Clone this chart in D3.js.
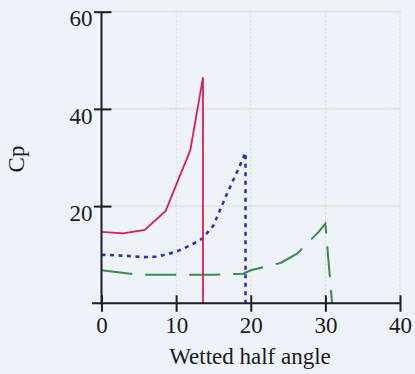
<!DOCTYPE html>
<html>
<head>
<meta charset="utf-8">
<script src="https://cdn.jsdelivr.net/npm/d3@7"></script>
<style>
  html, body { margin: 0; padding: 0; background: #eef2f9; }
  svg { display: block; }
  text { font-family: "Liberation Serif", "DejaVu Serif", serif; fill: #1a1a1a; }
</style>
</head>
<body>
<svg id="chart" width="415" height="374"></svg>
<script>
// Pressure coefficient vs wetted half angle, three cases
const xTicks = [0, 10, 20, 30, 40];
const yTicks = [20, 40, 60];

const redSeries = [
  [0, 14.7], [2.9, 14.4], [5.8, 15.1], [8.6, 19], [11.9, 31.5], [13.6, 46.5], [13.6, 0]
];
const blueSeries = [
  [0, 10], [3, 9.8], [5.5, 9.5], [7.5, 9.6], [10, 10.6], [12, 12], [13.5, 13.3],
  [15, 16], [16.8, 22.5], [18.3, 27.5], [19.3, 31], [19.3, 0]
];
const greenSeries = [
  [0, 6.8], [4.7, 5.9], [10, 5.9], [15, 5.9], [19, 6.1], [20, 6.8], [24, 8.3],
  [26.2, 10.2], [29.1, 14.7], [30, 16.4], [30.9, 0]
];

const svg = d3.select("#chart");
const x = d3.scaleLinear().domain([0, 40]).range([101.5, 400]);
const y = d3.scaleLinear().domain([0, 60]).range([303.3, 11.7]);
const serif = "'Liberation Serif', 'DejaVu Serif', serif";

// grid
const grid = svg.append("g");
grid.selectAll("line.v").data(xTicks.filter(d => d > 0)).join("line")
  .attr("x1", d => x(d)).attr("x2", d => x(d))
  .attr("y1", y(60)).attr("y2", y(0))
  .attr("stroke", "#c9ddc9").attr("stroke-width", 1).attr("stroke-dasharray", "2,2");
grid.selectAll("line.h").data(yTicks).join("line")
  .attr("x1", x(0)).attr("x2", x(40))
  .attr("y1", d => y(d)).attr("y2", d => y(d))
  .attr("stroke", "#cfe2c8").attr("stroke-width", 1);

// series
const line = d3.line().x(d => x(d[0])).y(d => y(d[1]));
svg.append("path").datum(greenSeries).attr("d", line)
  .attr("fill", "none").attr("stroke", "#3e8a4e").attr("stroke-width", 2)
  .attr("stroke-dasharray", "31,13");
svg.append("path").datum(blueSeries).attr("d", line)
  .attr("fill", "none").attr("stroke", "#2a36b0").attr("stroke-width", 2.6)
  .attr("stroke-dasharray", "4,4.5");
svg.append("path").datum(redSeries).attr("d", line)
  .attr("fill", "none").attr("stroke", "#dc1f4c").attr("stroke-width", 1.8);

// axes
const axisColor = "#1c1c2c";
const xAxis = svg.append("g").attr("transform", `translate(0,${y(0)})`)
  .call(d3.axisBottom(x).tickValues(xTicks).tickSize(0).tickFormat(d3.format("d")));
xAxis.attr("font-family", null).attr("font-size", null);
xAxis.select(".domain").remove();
xAxis.append("line").attr("x1", 92).attr("x2", x(40)).attr("stroke", axisColor).attr("stroke-width", 2);
xAxis.selectAll(".tick").append("line")
  .attr("y1", -8).attr("y2", 8.5).attr("stroke", axisColor).attr("stroke-width", 2);
xAxis.selectAll(".tick text")
  .attr("y", 13).attr("dy", "0.71em")
  .style("font-size", "23px").attr("fill", "#1a1a1a")
  .style("font-family", serif);

const yAxis = svg.append("g").attr("transform", `translate(${x(0)},0)`)
  .call(d3.axisLeft(y).tickValues(yTicks).tickSize(0).tickFormat(d3.format("d")));
yAxis.attr("font-family", null).attr("font-size", null);
yAxis.select(".domain").remove();
yAxis.append("line").attr("y1", y(60)).attr("y2", y(0) + 1).attr("stroke", axisColor).attr("stroke-width", 2);
yAxis.selectAll(".tick").append("line")
  .attr("x1", -7.5).attr("x2", 10).attr("stroke", axisColor).attr("stroke-width", 2);
yAxis.selectAll(".tick text")
  .attr("x", -9).attr("dy", "0.62em")
  .style("font-size", "23px").attr("fill", "#1a1a1a")
  .style("font-family", serif);

// axis titles
svg.append("text").attr("x", 250).attr("y", 364).attr("text-anchor", "middle")
  .style("font-size", "23px").text("Wetted half angle");
svg.append("text").attr("transform", "translate(24,159) rotate(-90)")
  .attr("text-anchor", "middle").style("font-size", "23px").text("Cp");
</script>
</body>
</html>
